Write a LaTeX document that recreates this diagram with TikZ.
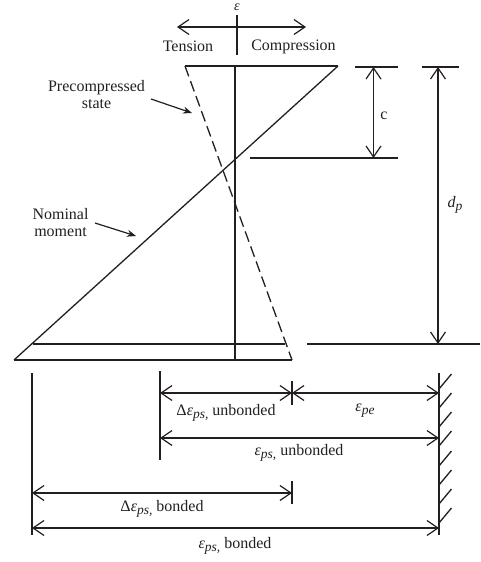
\documentclass[tikz,border=0pt]{standalone}
\usepackage{fontspec}
\setmainfont{Liberation Serif}
\definecolor{inkdark}{RGB}{35, 31, 32}
\usetikzlibrary{arrows.meta, positioning}
\newcommand{\lowtxt}[1]{\raisebox{-0.4ex}{\fontsize{13.5}{14}\selectfont\textit{#1}}}
\newcommand{\epsvar}{\textit{ε}}

\begin{document}
\begin{tikzpicture}[
    x=1pt, y=-1pt,
    line/.style={line width=1.6pt, inkdark},
    thinline/.style={line width=1.3pt, inkdark},
    dim/.style={{Straight Barb[length=11pt, width=15pt, line width=1.2pt]}-{Straight Barb[length=11pt, width=15pt, line width=1.2pt]}, line width=1.1pt, inkdark},
    pointer/.style={-{Stealth[length=9pt, width=7pt]}, line width=1.2pt, inkdark},
    label/.style={font=\fontsize{16}{16.5}\selectfont, text=inkdark, align=center, inner sep=0pt},
  ]
  \useasboundingbox (0,0) rectangle (480,562);

  % Sign convention
  \node[label] (eps) at (237,7) {\fontsize{14}{14}\selectfont\epsvar};
  \node[label] (tension) at (188,46.5) {Tension};
  \node[label] (compression) at (293.5,46.5) {Compression};
  \coordinate (axtop) at (237,15);
  \coordinate (axbot) at (237,55);
  \coordinate (signl) at (177,27);
  \coordinate (signr) at (306,27);
  \draw[line] (axtop) -- (axbot);
  \draw[dim] (signl) -- (signr);

  % Section and strain profiles
  \coordinate (topl) at (185,66);
  \coordinate (topr) at (338,66);
  \coordinate (botl) at (14,360);
  \coordinate (botr) at (292,360);
  \coordinate (steell) at (33,344);
  \coordinate (steelr) at (285,344);
  \coordinate (midtop) at (235,66);
  \coordinate (midbot) at (235,360);
  \draw[line] (topl) -- (topr);
  \draw[line] (botl) -- (botr);
  \draw[line] (midtop) -- (midbot);
  \draw[thinline] (steell) -- (steelr);
  \draw[thinline] (botl) -- (topr);
  \draw[thinline, dash pattern=on 11pt off 5pt] (topl) -- (botr);

  % Profile labels
  \node[label] (precomp) at (96.5,94.5) {Precompressed\\state};
  \node[label] (nominal) at (60.5,222.5) {Nominal\\moment};
  \coordinate (precompend) at (192,113);
  \coordinate (nominalend) at (136,236);
  \coordinate (precompstart) at (151,99);
  \coordinate (nominalstart) at (95,223);
  \draw[pointer] (precompstart) -- (precompend);
  \draw[pointer] (nominalstart) -- (nominalend);

  % Depth dimensions
  \coordinate (ctopl) at (355,67);
  \coordinate (ctopr) at (398,67);
  \coordinate (cbotl) at (250,158);
  \coordinate (cbotr) at (398,158);
  \coordinate (dtopl) at (422,67);
  \coordinate (dtopr) at (459,67);
  \coordinate (dbotl) at (307,344);
  \coordinate (dbotr) at (480,344);
  \coordinate (ctip) at (373.5,67);
  \coordinate (cend) at (373.5,158);
  \coordinate (dtip) at (438,67);
  \coordinate (dend) at (438,344);
  \draw[line] (ctopl) -- (ctopr);
  \draw[line] (cbotl) -- (cbotr);
  \draw[line] (dtopl) -- (dtopr);
  \draw[line] (dbotl) -- (dbotr);
  \draw[dim] (ctip) -- (cend);
  \draw[dim] (dtip) -- (dend);
  \node[label] (c) at (384,115.5) {c};
  \node[label] (dp) at (455,205) {\textit{d}\lowtxt{p}};

  % Strain limits
  \coordinate (bondtop) at (32,373);
  \coordinate (bondbot) at (32,535);
  \coordinate (unbtop) at (160,371);
  \coordinate (unbbot) at (160,460);
  \coordinate (petop) at (292,381);
  \coordinate (pebot) at (292,405);
  \coordinate (dbtop) at (292,481);
  \coordinate (dbbot) at (292,504);
  \coordinate (walltop) at (439,373);
  \coordinate (wallbot) at (439,535);
  \draw[line] (bondtop) -- (bondbot);
  \draw[line] (unbtop) -- (unbbot);
  \draw[line] (petop) -- (pebot);
  \draw[line] (dbtop) -- (dbbot);
  \draw[line] (walltop) -- (wallbot);

  % Wall hatching
  \foreach \y in {374,393,412,431,451,470,489,508}
    \draw[thinline] (439,\y+15) -- (451.5,\y);

  % Strain dimensions
  \coordinate (a1) at (160,393);
  \coordinate (a2) at (292,393);
  \coordinate (a3) at (439,393);
  \coordinate (b1) at (160,438);
  \coordinate (b2) at (439,438);
  \coordinate (e1) at (32,493);
  \coordinate (e2) at (292,493);
  \coordinate (f1) at (32,528);
  \coordinate (f2) at (439,528);
  \draw[dim] (a1) -- (a2);
  \draw[dim] (a2) -- (a3);
  \draw[dim] (b1) -- (b2);
  \draw[dim] (e1) -- (e2);
  \draw[dim] (f1) -- (f2);

  \node[label] (dunb) at (226,413) {Δ\epsvar\lowtxt{ps,} unbonded};
  \node[label] (epe) at (365,411) {\epsvar\lowtxt{pe}};
  \node[label] (epsunb) at (299,453) {\epsvar\lowtxt{ps,} unbonded};
  \node[label] (dbond) at (162,509) {Δ\epsvar\lowtxt{ps,} bonded};
  \node[label] (epsbond) at (235,546) {\epsvar\lowtxt{ps,} bonded};

\end{tikzpicture}
\end{document}
